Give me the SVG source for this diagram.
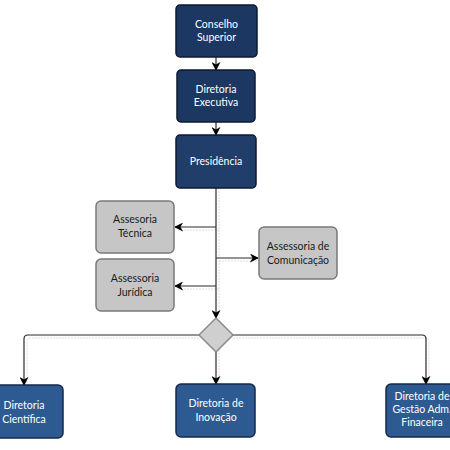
<svg xmlns="http://www.w3.org/2000/svg" width="450" height="450" viewBox="0 0 450 450">
<style>
.top{fill:#1c3762;stroke:#0e1a30;stroke-width:1.5}
.bot{fill:#2e5a92;stroke:#16294a;stroke-width:1.5}
.gray{fill:#c6c6c6;stroke:#7a7a7a;stroke-width:1.5}
.w{fill:#ffffff;font-family:Lato,"Open Sans",sans-serif;font-size:10.5px;text-anchor:middle}
.k{fill:#1a1a1a;font-family:Lato,"Open Sans",sans-serif;font-size:10.5px;text-anchor:middle}
.c{fill:none;stroke:#2a2a2a;stroke-width:1.2}
.s{fill:none;stroke:#dedede;stroke-width:1;stroke-dasharray:2 1}
</style>
<defs>
<marker id="a" viewBox="0 0 10 10" refX="9" refY="5" markerWidth="9" markerHeight="9" orient="auto" markerUnits="userSpaceOnUse">
<path d="M0,0 L10,5 L0,10 L3,5 Z" fill="#000"/>
</marker>
</defs>
<g id="connectors">
<path class="s" d="M219,188 V319"/>
<path class="s" d="M219,230 H177"/>
<path class="s" d="M219,261 H259"/>
<path class="s" d="M219,289 H177"/>
<path class="s" d="M219,338 V386"/>
<path class="s" d="M199,338 H31 Q27,338 27,342 V386"/>
<path class="s" d="M233,338 H425 Q429,338 429,342 V386"/>
<path class="c" d="M216,57 V70" marker-end="url(#a)"/>
<path class="c" d="M216,122 V135" marker-end="url(#a)"/>
<path class="c" d="M216,188 V318" marker-end="url(#a)"/>
<path class="c" d="M216,227 H175" marker-end="url(#a)"/>
<path class="c" d="M216,258 H258" marker-end="url(#a)"/>
<path class="c" d="M216,286 H175" marker-end="url(#a)"/>
<path class="c" d="M216,351 V384" marker-end="url(#a)"/>
<path class="c" d="M199,335 H28 Q24,335 24,339 V385" marker-end="url(#a)"/>
<path class="c" d="M233,335 H422 Q426,335 426,339 V384" marker-end="url(#a)"/>
</g>
<g id="conselho">
<rect class="top" x="176" y="5" width="81" height="52" rx="4"/>
<text class="w" x="216.5" y="28">Conselho</text>
<text class="w" x="216.5" y="41">Superior</text>
</g>
<g id="executiva">
<rect class="top" x="177" y="70" width="78" height="52" rx="4"/>
<text class="w" x="216" y="93">Diretoria</text>
<text class="w" x="216" y="106">Executiva</text>
</g>
<g id="presidencia">
<rect class="top" x="176" y="135" width="80" height="53" rx="4" style="fill:#213d69"/>
<text class="w" x="216" y="165">Presidência</text>
</g>
<g id="tecnica">
<rect class="gray" x="96" y="201" width="78" height="52" rx="5"/>
<text class="k" x="135" y="223">Assesoria</text>
<text class="k" x="135" y="237">Técnica</text>
</g>
<g id="comunicacao">
<rect class="gray" x="259" y="227" width="78" height="52" rx="5"/>
<text class="k" x="298" y="250">Assessoria de</text>
<text class="k" x="298" y="264">Comunicação</text>
</g>
<g id="juridica">
<rect class="gray" x="96" y="259" width="78" height="52" rx="5"/>
<text class="k" x="135" y="282">Assessoria</text>
<text class="k" x="135" y="296">Jurídica</text>
</g>
<g id="decisao">
<polygon points="216,318 233,335 216,352 199,335" fill="#cfcfcf" stroke="#8a8a8a" stroke-width="1.5"/>
</g>
<g id="cientifica">
<rect class="bot" x="-16" y="385" width="79" height="53" rx="5"/>
<text class="w" x="24" y="409">Diretoria</text>
<text class="w" x="24" y="423">Científica</text>
</g>
<g id="inovacao">
<rect class="bot" x="176" y="384" width="79" height="53" rx="5"/>
<text class="w" x="216" y="407">Diretoria de</text>
<text class="w" x="216" y="421">Inovação</text>
</g>
<g id="gestao">
<rect class="bot" x="386" y="384" width="80" height="53" rx="5"/>
<text class="w" x="422" y="400">Diretoria de</text>
<text class="w" x="422" y="413">Gestão Adm.</text>
<text class="w" x="422" y="426">Finaceira</text>
</g>
</svg>
